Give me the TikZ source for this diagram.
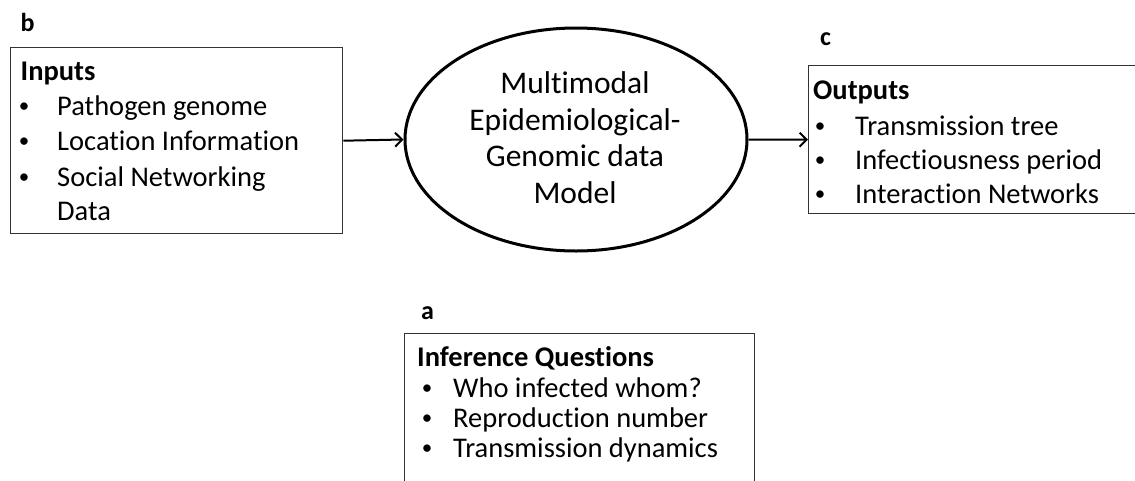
\documentclass[tikz,border=0pt]{standalone}
\usepackage{fontspec}
\setmainfont{Carlito}[Ligatures=NoCommon]
\usetikzlibrary{arrows.meta,shapes.geometric}
\begin{document}
\begin{tikzpicture}[x=1pt,y=-1pt,
  frame/.style={draw=black!80, line width=1.4pt, inner sep=0pt, anchor=north west},
  model/.style={draw=black, ellipse, line width=3pt, inner sep=0pt},
  conn/.style={draw=black, line width=2pt, -{Straight Barb[length=7pt,width=14pt,line width=2pt]}},
  line/.style={anchor=base west, inner sep=0pt, font=\fontsize{28.5}{34}\selectfont},
  head/.style={line, font=\fontsize{28.5}{34}\selectfont\bfseries},
  tag/.style={anchor=base west, inner sep=0pt, font=\fontsize{26}{30}\selectfont\bfseries},
  big/.style={anchor=base, inner sep=0pt, font=\fontsize{31.5}{36}\selectfont},
  dot/.style={anchor=base, inner sep=0pt, yshift=3pt, font=\fontsize{21}{24}\selectfont}]
\useasboundingbox (0,0) rectangle (1135,480);
\clip (0,0) rectangle (1135,480);

% frames
\node[frame, minimum width=332pt, minimum height=186pt] (inbox) at (10,47) {};
\node[frame, minimum width=400pt, minimum height=148pt] (outbox) at (808,65) {};
\node[frame, minimum width=350pt, minimum height=200pt] (qbox) at (404,333) {};
\node[model, minimum width=342pt, minimum height=223pt] (model) at (576,139.5) {};

% panel letters
\node[tag] (tagb) at (20.5,31.7) {b};
\node[tag] (tagc) at (820,45) {c};
\node[tag] (taga) at (421,319) {a};

% model text
\node[big] (m1) at (575,93.3) {Multimodal};
\node[big] (m2) at (575,130) {Epidemiological-};
\node[big] (m3) at (575,166.7) {Genomic data};
\node[big] (m4) at (575,203.3) {Model};

% inputs
\node[head] (inhead) at (20.5,80) {Inputs};
\node[dot] (ib1) at (24,115) {\textbullet};
\node[dot] (ib2) at (24,150) {\textbullet};
\node[dot] (ib3) at (24,186) {\textbullet};
\node[line] (in1) at (57,115) {Pathogen genome};
\node[line] (in2) at (57,150) {Location Information};
\node[line] (in3) at (57,186) {Social Networking};
\node[line] (in4) at (57,220) {Data};

% outputs
\node[head] (outhead) at (813,99) {Outputs};
\node[dot] (ob1) at (820,135) {\textbullet};
\node[dot] (ob2) at (820,169) {\textbullet};
\node[dot] (ob3) at (820,203.5) {\textbullet};
\node[line] (out1) at (855,135) {Transmission tree};
\node[line] (out2) at (855,169) {Infectiousness period};
\node[line] (out3) at (855,203.5) {Interaction Networks};

% inference questions
\node[head] (qhead) at (417,366) {Inference Questions};
\node[dot] (qb1) at (427,397) {\textbullet};
\node[dot] (qb2) at (427,427) {\textbullet};
\node[dot] (qb3) at (427,457) {\textbullet};
\node[line] (q1) at (453,397) {Who infected whom?};
\node[line] (q2) at (453,427) {Reproduction number};
\node[line] (q3) at (453,457) {Transmission dynamics};

% connectors
\draw[conn] (inbox.east) -- (model.west);
\draw[conn] (model.east) -- (outbox.west);
\end{tikzpicture}
\end{document}
